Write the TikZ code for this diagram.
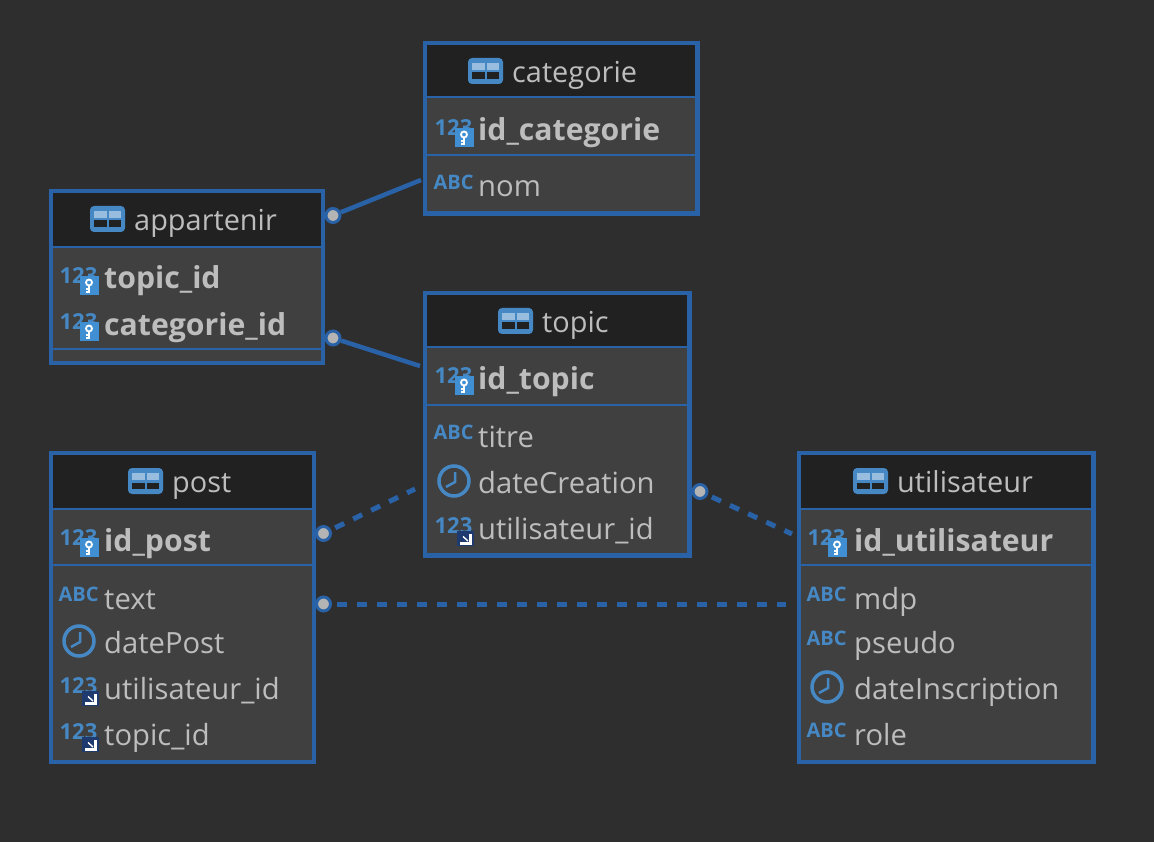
\documentclass[tikz,border=0pt]{standalone}
\usepackage{fontspec}
\setmainfont{Open Sans}
\definecolor{bgdark}{HTML}{2E2E2E}
\definecolor{headdark}{HTML}{212121}
\definecolor{bodygray}{HTML}{404040}
\definecolor{edgeblue}{HTML}{2A62A8}
\definecolor{iconblue}{HTML}{4688C4}
\definecolor{badgeblue}{HTML}{3F8FD2}
\definecolor{linknavy}{HTML}{1F3A6E}
\definecolor{labelgray}{HTML}{BDBDBD}
\definecolor{dotgray}{HTML}{B4B4B4}
\tikzset{
	tablebody/.style={fill=bodygray,anchor=north west,inner sep=0pt,outer sep=0pt},
	tableframe/.style={draw=edgeblue,line width=4.5pt},
	sepline/.style={draw=edgeblue,line width=2pt},
	shadowline/.style={draw=black!75,line width=1.5pt},
	titletext/.style={anchor=base west,inner sep=0pt,text=labelgray,font=\fontsize{28.9}{30}\selectfont},
	rowtext/.style={anchor=base west,inner sep=0pt,text=labelgray,font=\fontsize{29.2}{30}\selectfont},
	rowkey/.style={rowtext,font=\fontsize{30.2}{30}\selectfont\bfseries},
	glyphtext/.style={inner sep=0pt,text=iconblue,font=\fontsize{22}{22}\selectfont\bfseries},
	abctext/.style={glyphtext,font=\fontsize{20}{20}\selectfont\bfseries},
	reldot/.style={circle,draw=edgeblue,line width=3pt,fill=dotgray,minimum size=14pt,inner sep=0pt},
	relline/.style={draw=edgeblue,line width=4.5pt},
	reldash/.style={relline,line width=5pt,dash pattern=on 10pt off 10pt,dash phase=15.5pt},
	tableico/.pic={
		\fill[iconblue,rounded corners=4pt] (0,-13) rectangle (35,13);
		\fill[iconblue!55!white] (4,-8) rectangle (16.5,-1);
		\fill[iconblue!55!white] (18.5,-8) rectangle (31,-1);
		\fill[headdark] (4,1.5) rectangle (16.5,8);
		\fill[headdark] (18.5,1.5) rectangle (31,8);
	},
	numkey/.pic={
		\node[glyphtext] at (18.5,-2) {123};
		\fill[badgeblue] (20,-2) rectangle (39,17);
		\draw[white,line width=1.8pt] (29,4.5) circle (3);
		\draw[white,line width=2.2pt] (29,7.5) -- (29,15) (29,11) -- (26,11) (29,14) -- (26,14);
	},
	numlink/.pic={
		\node[glyphtext] at (18.5,-2) {123};
		\fill[linknavy] (22,3) rectangle (39,18);
		\fill[white] (25,5.5) rectangle (37,17);
		\fill[linknavy] (25,5.5) rectangle (34,14);
		\draw[white,line width=1.4pt] (33,13) -- (28,8.5);
	},
	abcico/.pic={
		\node[abctext] at (18.5,-4) {ABC};
	},
	clockico/.pic={
		\draw[iconblue,line width=3.5pt] (19,-1) circle (15);
		\draw[iconblue,line width=2.5pt] (20,-10) -- (20,0) -- (11,5);
	}
}
% one table: name, left, top, right, bottom, end of header, end of key rows, title x, title
\newcommand{\dbtable}[9]{
	\pgfmathsetmacro{\tw}{#4-#2}
	\pgfmathsetmacro{\th}{#5-#3}
	\node[tablebody,minimum width=\tw pt,minimum height=\th pt] (#1) at (#2,#3) {};
	\fill[headdark] (#2,#3) rectangle (#4,#6);
	\draw[shadowline] (#4-3,#6) -- (#4-3,#5-3) -- (#2+3,#5-3);
	\draw[sepline] (#2,#6) -- (#4,#6);
	\draw[sepline] (#2,#7) -- (#4,#7);
	\draw[tableframe] (#1.north west) rectangle (#1.south east);
	\pic at (#8-44,#3+28) {tableico};
	\node[titletext] (#1-title) at (#8,#3+39.5) {#9};
}
% rows of a table: name, left, text x, list of y/icon/node/style/text
\newcommand{\dbrows}[4]{
	\foreach \ry/\rico/\rname/\rstyle/\rtext in {#4}{
		\pic at (#2+10,\ry) {\rico};
		\node[\rstyle] (#1-\rname) at (#3,\ry+11) {\rtext};
	}
}
\begin{document}
\begin{tikzpicture}[x=1pt,y=-1pt]
	\useasboundingbox[fill=bgdark] (0,0) rectangle (1154,842);
	% tables
	\dbtable{categorie}{425}{43}{697.5}{213.5}{97}{155}{512}{categorie}
	\dbtable{appartenir}{51}{191}{323}{363}{247}{349}{134}{appartenir}
	\dbtable{topic}{425}{293}{689.5}{555.5}{347}{405}{542}{topic}
	\dbtable{post}{51}{453}{314}{762}{509}{565}{172}{post}
	\dbtable{utilisateur}{799}{453}{1093.5}{762}{509}{565}{897}{utilisateur}
	\dbrows{categorie}{425}{478}{130/numkey/idcat/rowkey/id\_categorie,186/abcico/nom/rowtext/nom}
	\dbrows{appartenir}{50}{104}{278/numkey/topicid/rowkey/topic\_id,324/numkey/catid/rowkey/categorie\_id}
	\dbrows{topic}{425}{478}{378/numkey/idtopic/rowkey/id\_topic,436/abcico/titre/rowtext/titre,482/clockico/date/rowtext/dateCreation,528/numlink/userid/rowtext/utilisateur\_id}
	\dbrows{post}{50}{104}{540/numkey/idpost/rowkey/id\_post,598/abcico/text/rowtext/text,642/clockico/date/rowtext/datePost,688/numlink/userid/rowtext/utilisateur\_id,734/numlink/topicid/rowtext/topic\_id}
	\dbrows{utilisateur}{798}{854}{540/numkey/iduser/rowkey/id\_utilisateur,598/abcico/mdp/rowtext/mdp,642/abcico/pseudo/rowtext/pseudo,688/clockico/date/rowtext/dateInscription,734/abcico/role/rowtext/role}
	% relations
	\node[reldot] (dotcat) at (333,215.5) {};
	\node[reldot] (dottopic) at (333,338) {};
	\node[reldot] (dotpost) at (323.5,533.5) {};
	\node[reldot] (dotuser) at (323.5,604) {};
	\node[reldot] (dotauthor) at (700,491.5) {};
	\coordinate (endcat) at (421,180);
	\coordinate (endtopic) at (420,366);
	\coordinate (endpost) at (415,489);
	\coordinate (enduser) at (786,604);
	\coordinate (endauthor) at (792,534);
	\draw[relline] (dotcat) -- (endcat);
	\draw[relline] (dottopic) -- (endtopic);
	\draw[reldash] (dotpost) -- (endpost);
	\draw[reldash] (dotuser) -- (enduser);
	\draw[reldash] (dotauthor) -- (endauthor);
\end{tikzpicture}
\end{document}
